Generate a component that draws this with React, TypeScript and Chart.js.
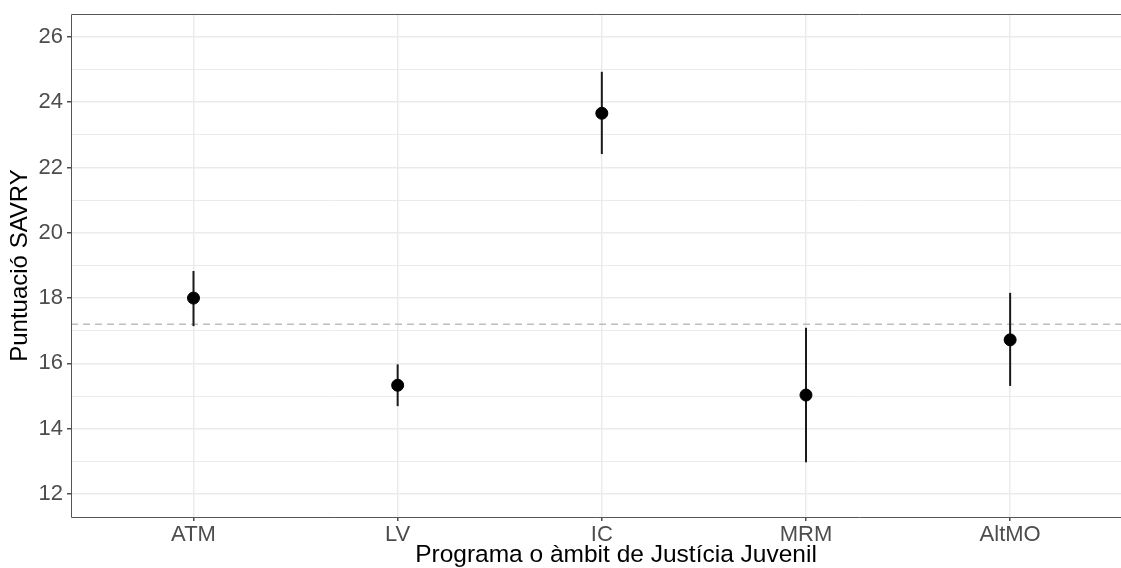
import React, { useEffect, useRef } from "react";
import { Chart, registerables } from "chart.js";

Chart.register(...registerables);

const categories = ["ATM", "LV", "IC", "MRM", "AltMO"];
const means = [18.0, 15.33, 23.66, 15.03, 16.72];
const lower = [17.14, 14.69, 22.41, 12.97, 15.31];
const upper = [18.83, 15.97, 24.93, 17.09, 18.16];
const referenceValue = 17.2;
const yTickValues = [12, 13, 14, 15, 16, 17, 18, 19, 20, 21, 22, 23, 24, 25, 26];
const xTitle = "Programa o àmbit de Justícia Juvenil";
const yTitle = "Puntuació SAVRY";

const X_MIN = -0.6;
const X_MAX = 4.543;
const Y_MIN = 11.295;
const Y_MAX = 26.70;

const FONT = "'Liberation Sans', Arial, Helvetica, sans-serif";

const borderPlugin = {
  id: "panelBorder",
  afterDatasetsDraw(chart: any) {
    const { ctx, chartArea } = chart;
    ctx.save();
    ctx.strokeStyle = "#555555";
    ctx.lineWidth = 1;
    ctx.beginPath();
    ctx.moveTo(chartArea.right + 2, Math.round(chartArea.top) + 0.5);
    ctx.lineTo(Math.round(chartArea.left) + 0.5, Math.round(chartArea.top) + 0.5);
    ctx.lineTo(Math.round(chartArea.left) + 0.5, Math.round(chartArea.bottom) + 0.5);
    ctx.lineTo(chartArea.right + 2, Math.round(chartArea.bottom) + 0.5);
    ctx.stroke();
    ctx.restore();
  },
  afterDraw(chart: any) {
    const { ctx } = chart;
    ctx.save();
    ctx.fillStyle = "#000000";
    ctx.font = `24.5px ${FONT}`;
    ctx.textAlign = "center";
    ctx.textBaseline = "alphabetic";
    ctx.fillText(xTitle, 616, 562);
    ctx.restore();
  },
};

export default function App() {
  const canvasRef = useRef<HTMLCanvasElement | null>(null);

  useEffect(() => {
    document.body.style.margin = "0";
    document.documentElement.style.overflow = "hidden";
    const canvas = canvasRef.current;
    if (!canvas) return;

    const errorSets = categories.map((c, i) => ({
      type: "line" as const,
      label: c + " CI",
      data: [
        { x: i, y: lower[i] },
        { x: i, y: upper[i] },
      ],
      borderColor: "#1a1a1a",
      borderWidth: 2,
      pointRadius: 0,
      showLine: true,
      order: 1,
    }));

    const zeroPad = (scale: any) => {
      scale.paddingLeft = 0;
      scale.paddingRight = 0;
      scale.paddingTop = 0;
      scale.paddingBottom = 0;
    };

    const chart = new Chart(canvas, {
      type: "scatter",
      data: {
        datasets: [
          {
            type: "scatter" as const,
            label: "mean",
            data: means.map((m, i) => ({ x: i, y: m })),
            backgroundColor: "#000000",
            borderColor: "#000000",
            pointRadius: 6,
            pointHoverRadius: 6,
            order: 0,
          } as any,
          ...errorSets,
          {
            type: "line" as const,
            label: "reference",
            data: [
              { x: X_MIN, y: referenceValue },
              { x: X_MAX, y: referenceValue },
            ],
            borderColor: "#bdbdbd",
            borderWidth: 1.5,
            borderDash: [7, 5],
            pointRadius: 0,
            showLine: true,
            order: 2,
          },
        ],
      },
      options: {
        animation: false,
        responsive: false,
        maintainAspectRatio: false,
        devicePixelRatio: 1,
        layout: { autoPadding: false, padding: { top: 14, left: 0, right: 0, bottom: 0 } },
        plugins: {
          legend: { display: false },
          tooltip: { enabled: false },
        },
        scales: {
          x: {
            type: "linear",
            min: X_MIN,
            max: X_MAX,
            afterBuildTicks: (scale: any) => {
              scale.ticks = categories.map((_, i) => ({ value: i }));
            },
            afterFit: (scale: any) => {
              scale.height = 51;
              zeroPad(scale);
            },
            ticks: {
              callback: (v: any) => categories[Math.round(Number(v))] ?? "",
              color: "#4d4d4d",
              font: { family: FONT, size: 22 },
              padding: 1,
              maxRotation: 0,
              autoSkip: false,
            },
            grid: {
              color: "#ebebeb",
              lineWidth: 1.5,
              tickColor: "#4d4d4d",
              tickLength: 4,
              drawTicks: true,
            },
            border: { display: false },
            title: { display: false },
          },
          y: {
            type: "linear",
            min: Y_MIN,
            max: Y_MAX,
            afterBuildTicks: (scale: any) => {
              scale.ticks = yTickValues.map((v) => ({ value: v }));
            },
            afterFit: (scale: any) => {
              scale.width = 71;
              zeroPad(scale);
            },
            ticks: {
              callback: (v: any) => (Number(v) % 2 === 0 ? String(v) : ""),
              color: "#4d4d4d",
              font: { family: FONT, size: 22 },
              padding: 4,
              autoSkip: false,
            },
            grid: {
              color: "#ebebeb",
              lineWidth: (ctx: any) => (ctx.tick && ctx.tick.value % 2 === 0 ? 1.5 : 1),
              tickColor: (ctx: any) =>
                ctx.tick && ctx.tick.value % 2 === 0 ? "#4d4d4d" : "rgba(0,0,0,0)",
              tickLength: 4,
              drawTicks: true,
            },
            border: { display: false },
            title: {
              display: true,
              text: yTitle,
              color: "#000000",
              font: { family: FONT, size: 24 },
              padding: { top: 6, bottom: 0 },
            },
          },
        },
      },
      plugins: [borderPlugin],
    });

    return () => {
      chart.destroy();
    };
  }, []);

  return (
    <div
      style={{
        position: "absolute",
        left: 0,
        top: 0,
        width: 1121,
        height: 568,
        overflow: "hidden",
        background: "#ffffff",
      }}
    >
      <canvas
        ref={canvasRef}
        width={1121}
        height={568}
        style={{ display: "block", width: 1121, height: 568 }}
      />
    </div>
  );
}
